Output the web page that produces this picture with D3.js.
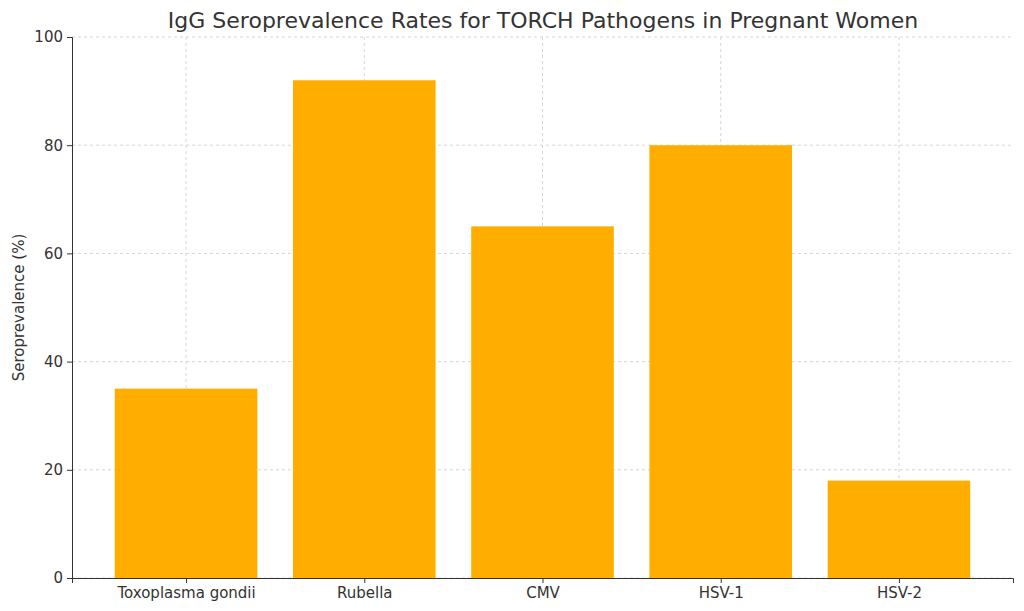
<!DOCTYPE html>
<html><head><meta charset="utf-8">
<script src="https://cdn.jsdelivr.net/npm/d3@7"></script>
<style>body{margin:0;background:#fff}text{font-family:"DejaVu Sans",sans-serif;fill:#333}</style>
</head><body><svg width="1024" height="611"></svg>
<script>
const categories = ["Toxoplasma gondii", "Rubella", "CMV", "HSV-1", "HSV-2"];
const values = [35, 92, 65, 80, 18];
const yTicks = [0, 20, 40, 60, 80, 100];

const svg = d3.select("svg");
const m = {l: 72, r: 1013, t: 37, b: 578};
const x = d3.scaleLinear().domain([-0.64, categories.length - 1 + 0.64]).range([m.l, m.r]);
const y = d3.scaleLinear().domain([0, 100]).range([m.b, m.t]);

// grid
svg.append("g").selectAll("line").data(yTicks).enter().append("line")
  .attr("x1", m.l).attr("x2", m.r).attr("y1", d => y(d)).attr("y2", d => y(d))
  .attr("stroke", "#ccc").attr("stroke-dasharray", "3,3").attr("stroke-width", 0.8);
svg.append("g").selectAll("line").data(categories).enter().append("line")
  .attr("x1", (d, i) => x(i)).attr("x2", (d, i) => x(i)).attr("y1", m.t).attr("y2", m.b)
  .attr("stroke", "#ccc").attr("stroke-dasharray", "3,3").attr("stroke-width", 0.8);

// bars
svg.append("g").selectAll("rect").data(values).enter().append("rect")
  .attr("x", (d, i) => x(i - 0.4)).attr("width", x(0.8) - x(0))
  .attr("y", d => y(d)).attr("height", d => y(0) - y(d)).attr("fill", "#FFAE00");

// axes
const xa = svg.append("g").attr("transform", `translate(0,${m.b})`)
  .call(d3.axisBottom(x).tickValues(d3.range(categories.length)).tickFormat(i => categories[i]).tickSize(5).tickPadding(4));
const ya = svg.append("g").attr("transform", `translate(${m.l},0)`)
  .call(d3.axisLeft(y).tickValues(yTicks).tickSize(5).tickPadding(4));
[xa, ya].forEach(a => {
  a.selectAll("text").style("font-size", "15px").attr("fill", "#333");
  a.selectAll("line,path").attr("stroke", "#333");
});
ya.select("path").attr("stroke", "#333");

svg.append("text").attr("x", 543).attr("y", 28).attr("text-anchor", "middle")
  .style("font-size", "22px").text("IgG Seroprevalence Rates for TORCH Pathogens in Pregnant Women");
svg.append("text").attr("transform", `translate(24,${(m.t + m.b) / 2}) rotate(-90)`)
  .attr("text-anchor", "middle").style("font-size", "15px").text("Seroprevalence (%)");
</script></body></html>
